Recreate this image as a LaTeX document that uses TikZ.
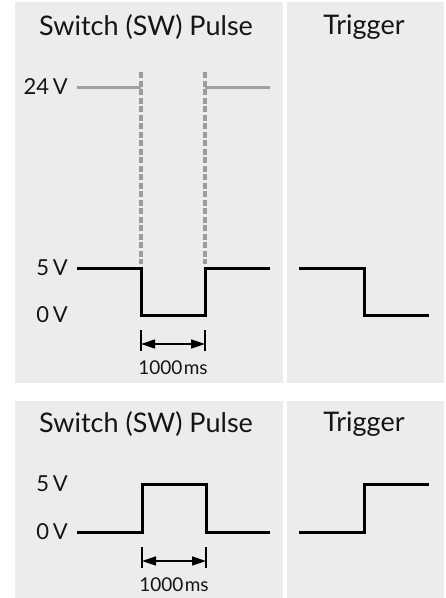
\documentclass[tikz,border=0pt]{standalone}
\usepackage{fontspec}
\setmainfont{Lato}
\usetikzlibrary{arrows.meta}
\definecolor{panel}{HTML}{ECECEC}
\definecolor{ink}{HTML}{151515}
\definecolor{graywave}{HTML}{A0A0A0}
\definecolor{guidegray}{HTML}{9C9C9C}
\tikzset{
  panelbox/.style={fill=panel, draw=none},
  title/.style={font=\fontsize{27}{31}\selectfont, text=ink, inner sep=0pt},
  vlabel/.style={font=\fontsize{22}{26}\selectfont, text=ink, inner sep=0pt, anchor=east},
  mslabel/.style={font=\fontsize{19}{22}\selectfont, text=ink, inner sep=0pt},
  wave/.style={line width=3pt, draw=black, line join=miter},
  graywv/.style={line width=3pt, draw=graywave},
  guide/.style={line width=3.5pt, draw=guidegray, line cap=butt, dash pattern=on 6pt off 2.5pt},
  tick/.style={line width=2pt, draw=black},
  dim/.style={line width=1.5pt, draw=black, {Triangle[length=14pt,width=9pt]}-{Triangle[length=14pt,width=9pt]}}
}
\begin{document}
\begin{tikzpicture}[x=1pt,y=-1pt]
\useasboundingbox (0,0) rectangle (446,598);
% panels
\fill[panelbox] (15,2) rectangle (283,383);
\fill[panelbox] (287,2) rectangle (444,383);
\fill[panelbox] (15,401) rectangle (283,598);
\fill[panelbox] (287,401) rectangle (444,598);
% titles
\node[title] (t1) at (146,27) {Switch (SW) Pulse};
\node[title] (t2) at (364,27) {Trigger};
\node[title] (t3) at (146,424) {Switch (SW) Pulse};
\node[title] (t4) at (364,424) {Trigger};
% top SW panel
\node[vlabel] (l24) at (68,87) {24\,V};
\node[vlabel] (l5a) at (68,268) {5\,V};
\node[vlabel] (l0a) at (68,315) {0\,V};
\draw[guide] (141,72) -- (141,264);
\draw[guide] (205,72) -- (205,264);
\draw[graywv] (77,87) -- (141,87);
\draw[graywv] (205,87) -- (270,87);
\draw[wave] (77,268) -- (141,268) -- (141,315) -- (205,315) -- (205,268) -- (270,268);
\draw[tick] (141,330) -- (141,351);
\draw[tick] (205,330) -- (205,351);
\coordinate (da1) at (141,344);
\coordinate (db1) at (205,344);
\draw[dim] (da1) -- (db1);
\node[mslabel] (ms1) at (173,368) {1000\kern1.5pt ms};
% top trigger
\draw[wave] (299,268) -- (364,268) -- (364,315) -- (429,315);
% bottom SW panel
\node[vlabel] (l5b) at (68,484) {5\,V};
\node[vlabel] (l0b) at (68,532) {0\,V};
\draw[wave] (77,532) -- (142,532) -- (142,484) -- (206,484) -- (206,532) -- (270,532);
\draw[tick] (142,547) -- (142,568);
\draw[tick] (206,547) -- (206,568);
\coordinate (da2) at (142,561);
\coordinate (db2) at (206,561);
\draw[dim] (da2) -- (db2);
\node[mslabel] (ms2) at (174,585) {1000\kern1.5pt ms};
% bottom trigger
\draw[wave] (299,532) -- (364,532) -- (364,484) -- (429,484);
\end{tikzpicture}
\end{document}
